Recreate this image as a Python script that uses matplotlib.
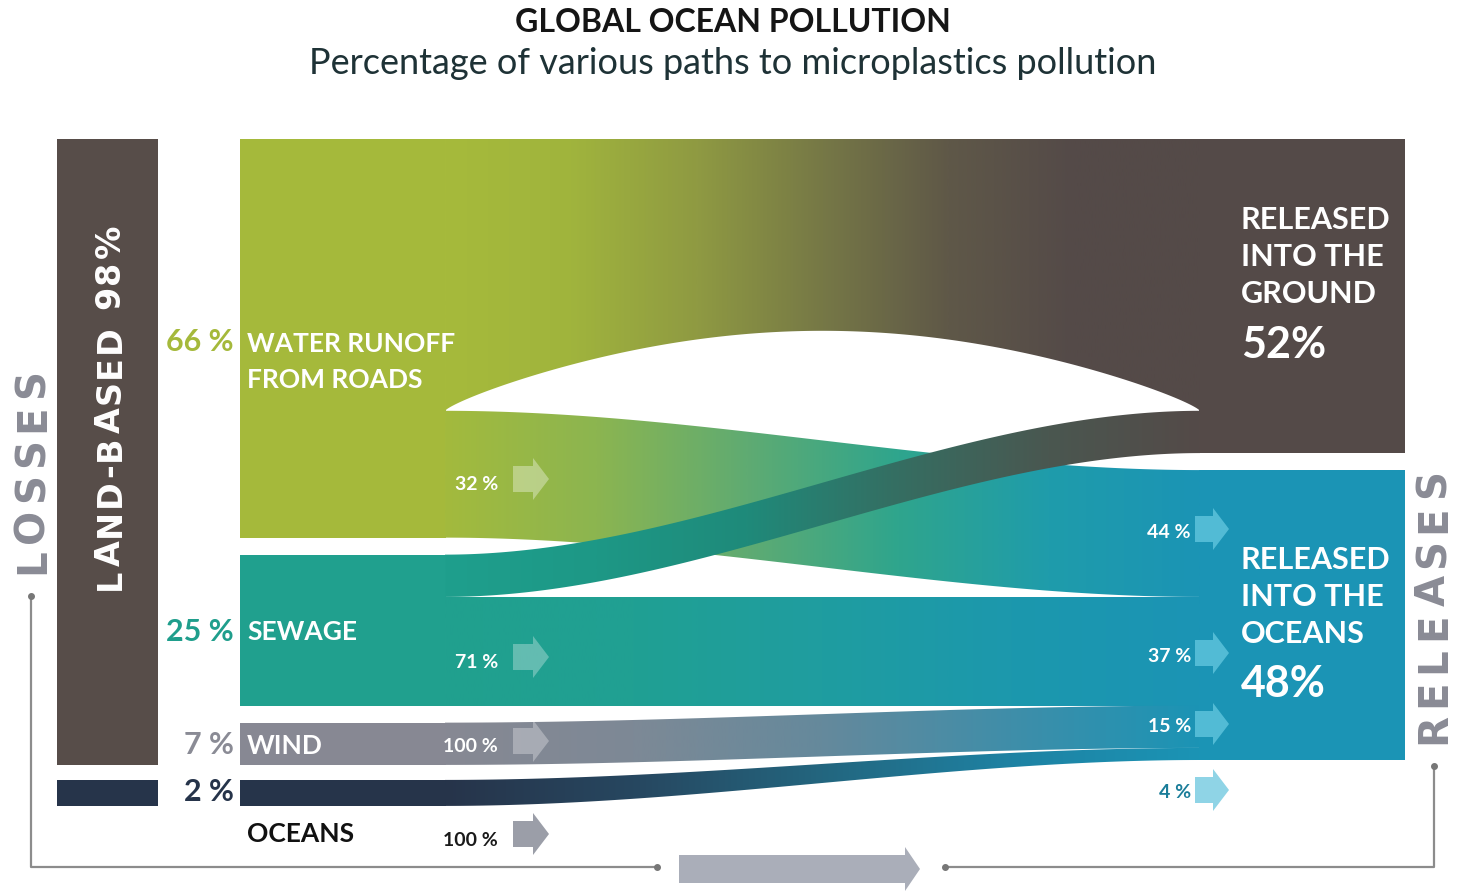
import numpy as np
import matplotlib
matplotlib.use("Agg")
import matplotlib.pyplot as plt
from matplotlib.patches import Polygon, Rectangle
from matplotlib.colors import LinearSegmentedColormap

# ---------------- data ----------------
title = "GLOBAL OCEAN POLLUTION"
subtitle = "Percentage of various paths to microplastics pollution"
land_based_pct = 98
source_names = ["WATER RUNOFF\nFROM ROADS", "SEWAGE", "WIND", "OCEANS"]
source_pct = [66, 25, 7, 2]
dest_names = ["RELEASED\nINTO THE\nGROUND", "RELEASED\nINTO THE\nOCEANS"]
dest_pct = [52, 48]
# flows (source index, dest index, % of total)
flow_src = [0, 0, 1, 1, 2, 3]
flow_dst = [0, 1, 0, 1, 1, 1]
flow_val = [45, 21, 7, 18, 7, 2]
# share labels
src_share_labels = ["32 %", "71 %", "100 %", "100 %"]
dst_share_labels = ["44 %", "37 %", "15 %", "4 %"]

# ---------------- style ----------------
C_BROWN = "#574d49"
C_GREEN = "#a5b93b"
C_TEAL = "#20a08e"
C_GREY = "#878893"
C_NAVY = "#26344a"
C_GROUND = "#544a48"
C_OCEAN = "#1b94b5"
src_colors = [C_GREEN, C_TEAL, C_GREY, C_NAVY]
dst_colors = [C_GROUND, C_OCEAN]

W, H = 1458, 891
fig = plt.figure(figsize=(W / 100, H / 100), dpi=100)
ax = fig.add_axes([0, 0, 1, 1])
ax.set_xlim(0, W)
ax.set_ylim(H, 0)
ax.axis("off")
renderer = fig.canvas.get_renderer()

FONT = ["Lato", "DejaVu Sans"]
VFONT = ["DejaVu Sans"]
scale = 6.04            # px per percent
top = 139
gap = 17
min_thick = 26
SX0, SX1 = 240, 445     # source blocks
DX0, DX1 = 1200, 1405   # destination blocks

# source block positions
src_y = []
y = top
for i, p in enumerate(source_pct):
    h = max(p * scale, min_thick)
    src_y.append((y, y + h))
    y += h + (gap if i < 2 else 15)
dst_y = []
y = top
for p in dest_pct:
    h = p * scale
    dst_y.append((y, y + h))
    y += h + gap


def vtext(x, yc, s, size, color, span):
    """vertical (rotated 90) bold text with letter spacing to fill a span"""
    widths = []
    for ch in s:
        if ch == " ":
            widths.append(size * 0.45)
            continue
        tt = ax.text(0, 0, ch, fontsize=size, fontweight="bold", family=VFONT)
        widths.append(tt.get_window_extent(renderer=renderer).width)
        tt.remove()
    sp = (span - sum(widths)) / max(len(s) - 1, 1)
    yy = yc + span / 2
    for ch, w in zip(s, widths):
        if ch != " ":
            ax.text(x, yy - w / 2, ch, rotation=90, ha="center", va="center", color=color,
                    fontsize=size, fontweight="bold", family=VFONT, zorder=8)
        yy -= w + sp


# left bars
ax.add_patch(Rectangle((57, src_y[0][0]), 101, src_y[2][1] - src_y[0][0], color=C_BROWN, lw=0))
ax.add_patch(Rectangle((57, src_y[3][0]), 101, src_y[3][1] - src_y[3][0], color=C_NAVY, lw=0))
vtext(110, 407, f"LAND-BASED {land_based_pct}%", 24, "white", 365)

# source blocks
for i in range(4):
    y0, y1 = src_y[i]
    ax.add_patch(Rectangle((SX0, y0), SX1 - SX0 + 1, y1 - y0, color=src_colors[i], lw=0, zorder=2))
# destination blocks
for j in range(2):
    y0, y1 = dst_y[j]
    ax.add_patch(Rectangle((DX0 - 1, y0), DX1 - DX0 + 1, y1 - y0, color=dst_colors[j], lw=0, zorder=2))

# flow positions
src_cursor = [s[0] for s in src_y]
dst_cursor = [d[0] for d in dst_y]
flows = []
for s, d, v in zip(flow_src, flow_dst, flow_val):
    if s == 3:
        hs = src_y[3][1] - src_y[3][0]
    else:
        hs = v * scale
    hd = v * scale
    flows.append((s, d, (src_cursor[s], src_cursor[s] + hs), (dst_cursor[d], dst_cursor[d] + hd)))
    src_cursor[s] += hs
    dst_cursor[d] += hd

xs = np.linspace(SX1, DX0, 400)
t = (xs - SX1) / (DX0 - SX1)
ss = 3 * t ** 2 - 2 * t ** 3

grad_stops = {
    (0, 0): ["#a6ba3b", "#a0b43d", "#8f9a42", "#767846", "#5f5848", C_GROUND, C_GROUND],
    (0, 1): ["#a3ba3d", "#8cb550", "#5fab72", "#2fa58d", "#1f9cab", C_OCEAN],
    (1, 0): ["#1f9f8d", "#1d9886", "#1f8a7a", "#356e62", "#4a5750", C_GROUND],
    (1, 1): ["#21a08e", "#20a093", "#1f9da0", "#1c98ad", C_OCEAN],
    (2, 1): ["#878893", "#7d8996", "#65899c", "#3f8ea9", C_OCEAN],
    (3, 1): [C_NAVY, "#274760", "#23667f", "#1e82a3", C_OCEAN],
}


def band(topv, botv, colors, z):
    verts = list(zip(xs, topv)) + list(zip(xs[::-1], botv[::-1]))
    poly = Polygon(verts, closed=True, facecolor="none", edgecolor="none", zorder=z)
    ax.add_patch(poly)
    cmap = LinearSegmentedColormap.from_list("g", colors)
    grad = np.linspace(0, 1, 512).reshape(1, -1)
    im = ax.imshow(grad, cmap=cmap, extent=[SX1 - 1, DX0 + 1, H, 0], aspect="auto",
                   zorder=z, interpolation="bilinear")
    im.set_clip_path(poly)


order = [0, 1, 3, 4, 5, 2]  # draw sewage->ground on top
for k in order:
    s, d, (sy0, sy1), (dy0, dy1) = flows[k]
    tv = sy0 + (dy0 - sy0) * ss
    bv = sy1 + (dy1 - sy1) * ss
    if k == 0:
        bv = bv - 80 * np.sin(np.pi * t) ** 0.8
    band(tv, bv, grad_stops[(s, d)], 3 + (1 if k == 2 else 0))

ax.set_xlim(0, W)
ax.set_ylim(H, 0)


# ---------------- arrows ----------------
def arrow(x, cy, color, bl=20, hl=16, bh=13, hh=21, z=6, alpha=1.0):
    pts = [(x, cy - bh), (x + bl, cy - bh), (x + bl, cy - hh), (x + bl + hl, cy),
           (x + bl, cy + hh), (x + bl, cy + bh), (x, cy + bh)]
    ax.add_patch(Polygon(pts, closed=True, facecolor=color, edgecolor="none", zorder=z, alpha=alpha))


src_arrow_y = [479, 657, 741, 834]
src_arrow_col = [("white", 0.35), ("white", 0.3), ("white", 0.3), ("#9b9ea8", 1.0)]
src_lbl_col = ["white", "white", "white", "#1a1a1a"]
for i in range(4):
    c, a = src_arrow_col[i]
    arrow(513, src_arrow_y[i], c, alpha=a)
    ax.text(498, src_arrow_y[i] + 6, src_share_labels[i], ha="right", va="center",
            color=src_lbl_col[i], fontsize=14, fontweight="bold", family=FONT, zorder=7)

dst_arrow_y = [529, 653, 724, 790]
dst_arrow_col = [("#5cc3db", 0.85), ("#5cc3db", 0.85), ("#5cc3db", 0.85), ("#8fd4e6", 1.0)]
dst_lbl_col = ["white", "white", "white", "#1a7d99"]
for i in range(4):
    c, a = dst_arrow_col[i]
    arrow(1195, dst_arrow_y[i], c, bl=18, hl=16, alpha=a)
    ax.text(1191, dst_arrow_y[i] + 3, dst_share_labels[i], ha="right", va="center",
            color=dst_lbl_col[i], fontsize=14, fontweight="bold", family=FONT, zorder=7)

# ---------------- source labels ----------------
pct_cols = ["#a5b93b", "#1f9e8c", "#8a8b95", "#26344a"]
pct_y = [342, 632, 745, 792]
for i in range(4):
    ax.text(234, pct_y[i], f"{source_pct[i]} %", ha="right", va="center", color=pct_cols[i],
            fontsize=22, fontweight="bold", family=FONT, zorder=7)
ax.text(247, 362, source_names[0], ha="left", va="center", color="white", fontsize=19,
        fontweight="bold", family=FONT, linespacing=1.6, zorder=7)
ax.text(247, 632, source_names[1], ha="left", va="center", color="white", fontsize=19,
        fontweight="bold", family=FONT, zorder=7)
ax.text(247, 746, source_names[2], ha="left", va="center", color="white", fontsize=19,
        fontweight="bold", family=FONT, zorder=7)
ax.text(247, 834, source_names[3], ha="left", va="center", color="#111111", fontsize=19,
        fontweight="bold", family=FONT, zorder=7)

# ---------------- destination labels ----------------
ax.text(1241, 257, dest_names[0], ha="left", va="center", color="white", fontsize=22,
        fontweight="bold", family=FONT, linespacing=1.38, zorder=7)
ax.text(1241, 345, f"{dest_pct[0]}%", ha="left", va="center", color="white", fontsize=31,
        fontweight="bold", family=FONT, zorder=7)
ax.text(1241, 597, dest_names[1], ha="left", va="center", color="white", fontsize=22,
        fontweight="bold", family=FONT, linespacing=1.38, zorder=7)
ax.text(1241, 684, f"{dest_pct[1]}%", ha="left", va="center", color="white", fontsize=31,
        fontweight="bold", family=FONT, zorder=7)

# ---------------- axes-like labels ----------------
vtext(33, 472, "LOSSES", 29, "#8a8b95", 205)
vtext(1434, 607, "RELEASES", 29, "#8a8b95", 275)

lc = "#8c8c8c"
ax.plot([31, 31, 657], [596, 867, 867], color=lc, lw=1.6, zorder=1)
ax.plot([31], [596], "o", color="#777777", ms=4)
ax.plot([657], [867], "o", color="#777777", ms=4)
ax.plot([945, 1434, 1434], [867, 867, 766], color=lc, lw=1.6, zorder=1)
ax.plot([945], [867], "o", color="#777777", ms=4)
ax.plot([1434], [766], "o", color="#777777", ms=4)
arrow(679, 869, "#aaaeb9", bl=226, hl=15, bh=14, hh=22, z=2)

# ---------------- titles ----------------
ax.text(733, 23, title, ha="center", va="center", color="#151515", fontsize=23,
        fontweight="bold", family=FONT)
ax.text(733, 63, subtitle, ha="center", va="center", color="#1e3236", fontsize=26,
        fontweight="normal", family=FONT)

fig.savefig("out.png", dpi=100, facecolor="white")
